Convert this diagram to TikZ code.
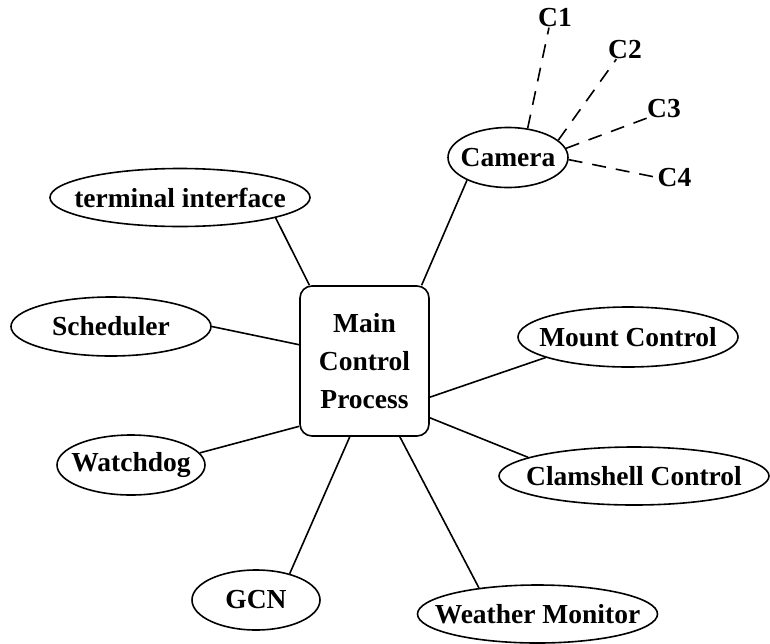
\documentclass[tikz,border=0pt]{standalone}
\usepackage{fontspec}
\setmainfont{Liberation Serif}
\usetikzlibrary{shapes.geometric}

\newcommand{\ctext}[1]{\makebox[0pt]{#1}}

\begin{document}
\begin{tikzpicture}[x=0.5pt,y=-0.5pt,
        font=\bfseries\fontsize{13.75}{19}\selectfont,
        task/.style={ellipse, draw, line width=0.8pt, inner sep=0pt, minimum height=30pt},
        link/.style={line width=0.8pt},
        camlink/.style={line width=0.8pt, dash pattern=on 7pt off 5pt},
        camtag/.style={inner sep=0pt}]
                \useasboundingbox (0,0) rectangle (770,643);

                \node[draw, line width=0.8pt, rounded corners=6pt, minimum width=64.5pt, minimum height=75pt, align=center] (main) at (364.5,361) {Main\\Control\\Process}; %main

                \node[task, minimum width=60pt] (cam) at (508,157.5) {\ctext{Camera}}; %camera
                \node[task, minimum width=130pt, minimum height=29pt] (term) at (180,197.5) {\ctext{terminal interface}}; %terminal
                \node[task, minimum width=100pt, minimum height=29.5pt] (sched) at (111,326.5) {\ctext{Scheduler}}; %scheduler
                \node[task, minimum width=74pt] (watch) at (131,465) {\ctext{Watchdog}}; %watchdog
                \node[task, minimum width=64pt] (gcn) at (256,600) {\ctext{GCN}}; %gcn
                \node[task, minimum width=120pt, minimum height=29pt] (weather) at (537.5,614) {\ctext{Weather Monitor}}; %weather
                \node[task, minimum width=135pt, minimum height=29pt] (clam) at (634,476) {\ctext{Clamshell Control}}; %clamshell
                \node[task, minimum width=110pt] (mount) at (628,337) {\ctext{Mount Control}}; %mount

                \node[camtag] (c1) at (555,18) {C1};
                \node[camtag] (c2) at (625,49.5) {C2};
                \node[camtag] (c3) at (664,109) {C3};
                \node[camtag] (c4) at (674.5,177.5) {C4};

                \draw[link] (main.53) -- (cam.209);
                \draw[link] (main.126) -- (term.-12.6);
                \draw[link] (main.166) -- (sched.east);
                \draw[link] (main.225) -- (watch.10);
                \draw[link] (main.259) -- (gcn.38);
                \draw[link] (main.295) -- (weather.156);
                \draw[link] (main.319) -- (clam.170);
                \draw[link] (main.331) -- (mount.194);

                \draw[camlink] (cam.56) -- (c1.238);
                \draw[camlink] (cam.19) -- (c2.228);
                \draw[camlink] (cam.9) -- (c3.208);
                \draw[camlink] (cam.-2) -- (c4.west);
            \end{tikzpicture}
\end{document}
